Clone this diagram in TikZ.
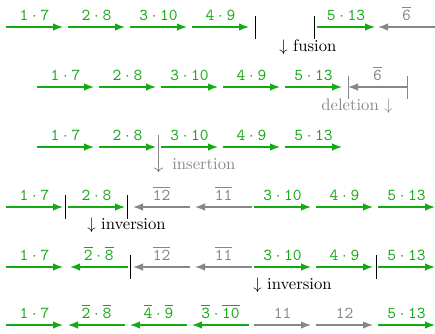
\documentclass[tikz,border=0pt]{standalone}
\usepackage{amsmath}
\usetikzlibrary{arrows.meta}
\definecolor{gruen}{RGB}{20,170,20}
\definecolor{grau}{RGB}{135,135,135}
\tikzset{
  gen/.style={gruen, line width=0.8pt, -{Latex[length=6pt,width=4.5pt]}},
  luecke/.style={grau, line width=0.8pt, -{Latex[length=6pt,width=4.5pt]}},
  lbl/.style={midway, anchor=base, yshift=4.2pt, inner sep=0pt},
  bruch/.style={line width=0.5pt},
  notiz/.style={anchor=base west, inner sep=0pt},
}
\newcommand{\tl}[1]{$\mathtt{#1}$}
\newcommand{\ob}[1]{\overline{#1}}

\begin{document}
\begin{tikzpicture}[x=0.6pt,y=-0.6pt]
\useasboundingbox (0,0) rectangle (435,333);
% Raster der Segmente:
\foreach \r/\y/\o in {1/27/6,2/87/37,3/147/37,4/207/6,5/267/6,6/325/6}
  \foreach \k in {0,...,6} {
    \coordinate (l\r\k) at ({\o+62*\k},\y);
    \coordinate (r\r\k) at ({\o+62*\k+57},\y);
  }

% Zeile 1: vor der Fusion
\draw[gen] (l10) -- node[lbl] (a10) {\tl{1\cdot7}} (r10);
\draw[gen] (l11) -- node[lbl] (a11) {\tl{2\cdot8}} (r11);
\draw[gen] (l12) -- node[lbl] (a12) {\tl{3\cdot10}} (r12);
\draw[gen] (l13) -- node[lbl] (a13) {\tl{4\cdot9}} (r13);
\coordinate (b11) at (255,27); \coordinate (b12) at (314,27);
\draw[bruch] (b11) ++(0,-11.5) -- ++(0,23); % linker Bruch
\draw[bruch] (b12) ++(0,-11.5) -- ++(0,23); % rechter Bruch
\draw[gen] ([xshift=0.6pt]l15) -- node[lbl] (a15) {\tl{5\cdot13}} ([xshift=1.2pt]r15);
\draw[luecke] (r16) -- node[lbl] (a16) {\tl{\ob{6}}} (l16);
\node[notiz] (t1) at (279,51) {$\downarrow$\ fusion};

% Zeile 2: vor der Deletion
\draw[gen] (l20) -- node[lbl] (a20) {\tl{1\cdot7}} (r20);
\draw[gen] (l21) -- node[lbl] (a21) {\tl{2\cdot8}} (r21);
\draw[gen] (l22) -- node[lbl] (a22) {\tl{3\cdot10}} (r22);
\draw[gen] (l23) -- node[lbl] (a23) {\tl{4\cdot9}} (r23);
\draw[gen] (l24) -- node[lbl] (a24) {\tl{5\cdot13}} (r24);
\coordinate (b21) at (348,87); \coordinate (b22) at (407,87);
\draw[bruch, grau] (b21) ++(0,-11.5) -- ++(0,23);
\draw[bruch, grau] (b22) ++(0,-11.5) -- ++(0,23);
\draw[luecke] (b22) -- node[lbl] (a25) {\tl{\ob{6}}} (b21);
\node[notiz, grau, anchor=base east] (t2) at (393,110) {deletion\ $\downarrow$};

% Zeile 3: Insertion
\draw[gen] (l30) -- node[lbl] (a30) {\tl{1\cdot7}} (r30);
\draw[gen] (l31) -- node[lbl] (a31) {\tl{2\cdot8}} (r31);
\draw[gen] (l32) -- node[lbl] (a32) {\tl{3\cdot10}} (r32);
\draw[gen] (l33) -- node[lbl] (a33) {\tl{4\cdot9}} (r33);
\draw[gen] (l34) -- node[lbl] (a34) {\tl{5\cdot13}} (r34);
\coordinate (e1) at (158.5,135); \coordinate (e2) at (158.5,172);
\draw[grau, line width=0.5pt, -{Computer Modern Rightarrow}] (e1) -- (e2);
\node[notiz, grau] (t3) at (172,169) {insertion};

% Zeile 4: erste Inversion
\draw[gen] (l40) -- node[lbl] (a40) {\tl{1\cdot7}} (r40);
\coordinate (b41) at (65.5,207); \coordinate (b42) at (127.7,207);
\draw[bruch] (b41) ++(0,-12) -- ++(0,24);
\draw[gen] (l41) -- node[lbl] (a41) {\tl{2\cdot8}} (r41);
\draw[bruch] (b42) ++(0,-12) -- ++(0,24);
\draw[luecke] ([xshift=1.8pt]r42) -- node[lbl] (a42) {\tl{\ob{12}}} ([xshift=1.8pt]l42);
\draw[luecke] ([xshift=1.8pt]r43) -- node[lbl] (a43) {\tl{\ob{11}}} ([xshift=1.8pt]l43);
\draw[gen] (l44) -- node[lbl] (a44) {\tl{3\cdot10}} (r44);
\draw[gen] (l45) -- node[lbl] (a45) {\tl{4\cdot9}} (r45);
\draw[gen] (l46) -- node[lbl] (a46) {\tl{5\cdot13}} (r46);
\node[notiz] (t4) at (87,229) {$\downarrow$\ inversion};

% Zeile 5: zweite Inversion
\draw[gen] (l50) -- node[lbl] (a50) {\tl{1\cdot7}} (r50);
\draw[gen] ([xshift=1.5pt]r51) -- node[lbl] (a51) {\tl{\ob{2}\cdot\ob{8}}} ([xshift=1.2pt]l51);
\coordinate (b51) at (130,267); \coordinate (b52) at (376.5,267);
\draw[bruch] (b51) ++(0,-12) -- ++(0,24);
\draw[luecke] ([xshift=1.8pt]r52) -- node[lbl] (a52) {\tl{\ob{12}}} ([xshift=1.8pt]l52);
\draw[luecke] ([xshift=1.8pt]r53) -- node[lbl] (a53) {\tl{\ob{11}}} ([xshift=1.8pt]l53);
\draw[gen] (l54) -- node[lbl] (a54) {\tl{3\cdot10}} (r54);
\draw[gen] (l55) -- node[lbl] (a55) {\tl{4\cdot9}} (r55);
\draw[bruch] (b52) ++(0,-12) -- ++(0,24);
\draw[gen] (l56) -- node[lbl] (a56) {\tl{5\cdot13}} (r56);
\node[notiz] (t5) at (253,289) {$\downarrow$\ inversion};

% Zeile 6: Ergebnis
\draw[gen] (l60) -- node[lbl] (a60) {\tl{1\cdot7}} (r60);
\draw[gen] (r61) -- node[lbl] (a61) {\tl{\ob{2}\cdot\ob{8}}} (l61);
\draw[gen] (r62) -- node[lbl] (a62) {\tl{\ob{4}\cdot\ob{9}}} (l62);
\draw[gen] (r63) -- node[lbl] (a63) {\tl{\ob{3}\cdot\ob{10}}} (l63);
\draw[luecke] (l64) -- node[lbl] (a64) {\tl{11}} (r64);
\draw[luecke] (l65) -- node[lbl] (a65) {\tl{12}} (r65);
\draw[gen] (l66) -- node[lbl] (a66) {\tl{5\cdot13}} (r66);
\end{tikzpicture}
\end{document}
